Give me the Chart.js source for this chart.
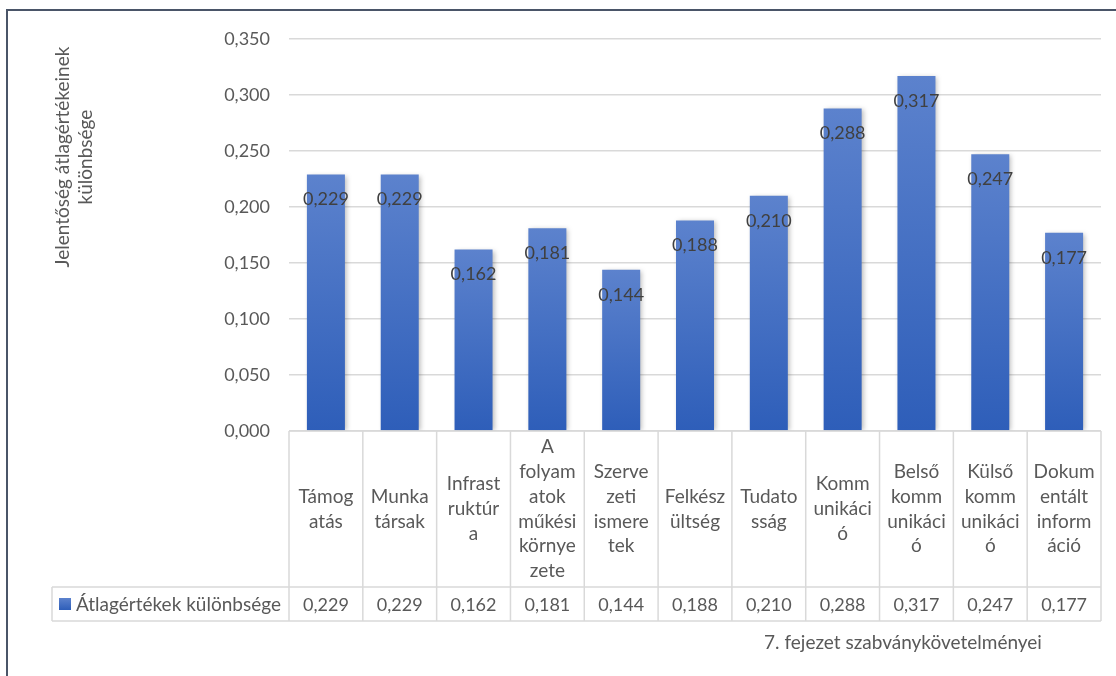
<!DOCTYPE html>
<html>
<head>
<meta charset="utf-8">
<script src="https://cdn.jsdelivr.net/npm/chart.js@4.4.0/dist/chart.umd.min.js"></script>
<style>
  html, body { margin: 0; padding: 0; background: #ffffff; }
  #wrap { width: 1116px; height: 676px; position: relative; }
</style>
</head>
<body>
<div id="wrap"><canvas id="c" width="1116" height="676"></canvas></div>
<script>
// ---- DATA ----
const categoryLines = [
  ["Támog", "atás"],
  ["Munka", "társak"],
  ["Infrast", "ruktúr", "a"],
  ["A", "folyam", "atok", "m\u0171k\u00e9si", "környe", "zete"],
  ["Szerve", "zeti", "ismere", "tek"],
  ["Felkész", "ültség"],
  ["Tudato", "sság"],
  ["Komm", "unikáci", "ó"],
  ["Belső", "komm", "unikáci", "ó"],
  ["Külső", "komm", "unikáci", "ó"],
  ["Dokum", "entált", "inform", "áció"]
];
const categories = categoryLines.map(l => l.join(""));
const seriesName = "Átlagértékek különbsége";
const values = [0.229, 0.229, 0.162, 0.181, 0.144, 0.188, 0.210, 0.288, 0.317, 0.247, 0.177];
const yTicks = [0, 0.05, 0.10, 0.15, 0.20, 0.25, 0.30, 0.35];
const yTitleLines = ["Jelentőség átlagértékeinek", "különbsége"];
const xTitle = "7. fejezet szabványkövetelményei";

// ---- STYLE ----
const FONT = "Lato";
const TXT = "#595959";
const LBL = "#404040";
const GRID = "#d9d9d9";
const fmt = v => v.toFixed(3).replace(".", ",");

function barGradient(ctx2d, top, bottom) {
  const g = ctx2d.createLinearGradient(0, top, 0, bottom);
  g.addColorStop(0, "#5C82CD");
  g.addColorStop(1, "#2E5EB9");
  return g;
}

const decor = {
  id: "decor",
  beforeDraw(chart) {
    const c = chart.ctx;
    c.save();
    c.fillStyle = "#ffffff";
    c.fillRect(0, 0, chart.width, chart.height);
    c.strokeStyle = "#4a5568";
    c.lineWidth = 2;
    c.strokeRect(7, 10, chart.width + 20, chart.height + 20);
    c.restore();
  },
  beforeDatasetsDraw(chart) {
    const c = chart.ctx;
    c.save();
    c.shadowColor = "rgba(0,0,0,0.28)";
    c.shadowBlur = 5;
    c.shadowOffsetX = 2;
    c.shadowOffsetY = 1;
  },
  afterDatasetsDraw(chart) {
    const c = chart.ctx;
    c.restore();
    const meta = chart.getDatasetMeta(0);
    c.save();
    c.font = "18px " + FONT;
    c.fillStyle = LBL;
    c.textAlign = "center";
    c.textBaseline = "middle";
    meta.data.forEach((bar, i) => {
      c.fillText(fmt(values[i]), bar.x, bar.y + 25);
    });
    c.restore();
  },
  afterDraw(chart) {
    const c = chart.ctx;
    const xs = chart.scales.x;
    const ys = chart.scales.y;
    const area = chart.chartArea;
    const n = categories.length;
    const colW = (area.right - area.left) / n;
    const top = ys.getPixelForValue(0);
    const rowMid = top + 156;
    const rowBot = rowMid + 34;
    const legLeft = 52;
    c.save();
    c.strokeStyle = GRID;
    c.lineWidth = 1.5;
    c.beginPath();
    c.moveTo(area.left, top); c.lineTo(area.right, top);
    c.moveTo(legLeft, rowMid); c.lineTo(area.right, rowMid);
    c.moveTo(legLeft, rowBot); c.lineTo(area.right, rowBot);
    for (let i = 0; i <= n; i++) {
      const x = area.left + i * colW;
      c.moveTo(x, top); c.lineTo(x, rowBot);
    }
    c.moveTo(legLeft, rowMid); c.lineTo(legLeft, rowBot);
    c.stroke();

    // category labels
    c.fillStyle = TXT;
    c.font = "19px " + FONT;
    c.textAlign = "center";
    c.textBaseline = "middle";
    const lh = 24.8;
    const cellMid = (top + rowMid) / 2;
    categoryLines.forEach((lines, i) => {
      const cx = xs.getPixelForValue(i);
      const start = cellMid - (lines.length - 1) * lh / 2;
      lines.forEach((t, k) => c.fillText(t, cx, start + k * lh, colW - 8));
    });
    // values row
    c.font = "18px " + FONT;
    values.forEach((v, i) => {
      c.fillText(fmt(v), xs.getPixelForValue(i), (rowMid + rowBot) / 2 + 1);
    });
    // legend key
    const ky = (rowMid + rowBot) / 2;
    c.fillStyle = barGradient(c, ky - 6, ky + 6);
    c.fillRect(59, ky - 6, 12, 12);
    c.fillStyle = TXT;
    c.textAlign = "left";
    c.font = "19px " + FONT;
    c.fillText(seriesName, 76, ky + 1);

    // x title
    c.font = "19px " + FONT;
    c.textAlign = "center";
    c.fillText(xTitle, 903, 643);

    // y title
    c.translate(74, 157);
    c.rotate(-Math.PI / 2);
    c.font = "19px " + FONT;
    c.fillText(yTitleLines[0], 0, -11);
    c.fillText(yTitleLines[1], 0, 12);
    c.restore();
  }
};

new Chart(document.getElementById("c"), {
  type: "bar",
  data: {
    labels: categories,
    datasets: [{
      label: seriesName,
      data: values,
      backgroundColor: (ctx) => {
        const chart = ctx.chart;
        if (!chart.chartArea || ctx.raw === undefined) return "#4472C4";
        const ys = chart.scales.y;
        return barGradient(chart.ctx, ys.getPixelForValue(ctx.raw), ys.getPixelForValue(0));
      },
      borderWidth: 0,
      barPercentage: 0.515,
      categoryPercentage: 1.0
    }]
  },
  options: {
    responsive: false,
    animation: false,
    devicePixelRatio: 1,
    layout: { padding: { left: 0, right: 15, top: 39, bottom: 245 } },
    plugins: { legend: { display: false }, tooltip: { enabled: false } },
    scales: {
      x: { display: false, offset: true },
      y: {
        min: 0, max: 0.35,
        afterFit(scale) { scale.width = 289; },
        afterBuildTicks(scale) { scale.ticks = yTicks.map(v => ({ value: v })); },
        border: { display: false },
        grid: { color: GRID, lineWidth: 1.5, drawTicks: false },
        ticks: {
          padding: 19,
          color: TXT,
          font: { family: FONT, size: 18 },
          callback: v => fmt(v)
        }
      }
    }
  },
  plugins: [decor]
});
</script>
</body>
</html>
